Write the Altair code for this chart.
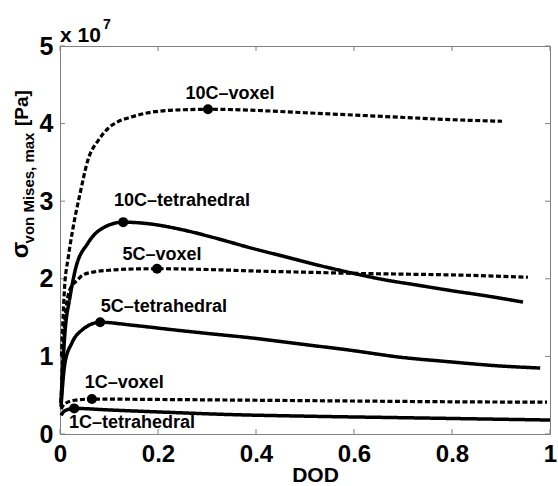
import altair as alt
import pandas as pd

# ---- data (stress in units of 1e7 Pa) ----
v10_x = [0.003, 0.01, 0.016, 0.027, 0.041, 0.057, 0.08, 0.1, 0.12, 0.143, 0.18, 0.22, 0.26, 0.302, 0.4, 0.5, 0.6, 0.7, 0.8, 0.902]
v10_y = [1.0, 1.95, 2.24, 2.67, 3.1, 3.53, 3.8, 3.95, 4.03, 4.08, 4.14, 4.17, 4.18, 4.185, 4.17, 4.14, 4.11, 4.08, 4.05, 4.03]

t10_x = [0.002, 0.01, 0.02, 0.031, 0.057, 0.092, 0.129, 0.18, 0.251, 0.32, 0.388, 0.456, 0.524, 0.592, 0.66, 0.728, 0.796, 0.87, 0.945]
t10_y = [0.4, 1.3, 1.75, 2.11, 2.46, 2.67, 2.73, 2.71, 2.63, 2.52, 2.40, 2.29, 2.18, 2.08, 1.99, 1.92, 1.85, 1.78, 1.70]

v5_x = [0.002, 0.008, 0.02, 0.035, 0.047, 0.07, 0.1, 0.14, 0.198, 0.3, 0.4, 0.5, 0.6, 0.7, 0.8, 0.955]
v5_y = [0.4, 1.3, 1.86, 1.98, 2.05, 2.09, 2.11, 2.125, 2.13, 2.12, 2.10, 2.085, 2.07, 2.06, 2.05, 2.02]

t5_x = [0.002, 0.01, 0.024, 0.045, 0.082, 0.15, 0.235, 0.31, 0.388, 0.49, 0.592, 0.694, 0.796, 0.89, 0.98]
t5_y = [0.35, 0.91, 1.17, 1.34, 1.44, 1.40, 1.34, 1.29, 1.24, 1.16, 1.08, 0.99, 0.93, 0.88, 0.85]

v1_x = [0.002, 0.01, 0.03, 0.065, 0.2, 0.4, 0.6, 0.8, 0.994]
v1_y = [0.32, 0.39, 0.435, 0.45, 0.445, 0.435, 0.425, 0.415, 0.41]

t1_x = [0.002, 0.01, 0.029, 0.1, 0.218, 0.35, 0.5, 0.7, 0.85, 1.0]
t1_y = [0.24, 0.3, 0.33, 0.31, 0.28, 0.25, 0.23, 0.21, 0.195, 0.18]

series_names = ["10C–voxel", "10C–tetrahedral", "5C–voxel", "5C–tetrahedral", "1C–voxel", "1C–tetrahedral"]
series_kind = ["dashed", "solid", "dashed", "solid", "dashed", "solid"]
series_x = [v10_x, t10_x, v5_x, t5_x, v1_x, t1_x]
series_y = [v10_y, t10_y, v5_y, t5_y, v1_y, t1_y]

peak_x = [0.302, 0.129, 0.198, 0.082, 0.065, 0.029]
peak_y = [4.185, 2.73, 2.13, 1.44, 0.45, 0.33]

label_x = [0.347, 0.249, 0.208, 0.212, 0.131, 0.147]
label_y = [4.38, 3.0, 2.31, 1.64, 0.66, 0.14]

x_ticks = [0, 0.2, 0.4, 0.6, 0.8, 1]
y_ticks = [0, 1, 2, 3, 4, 5]

rows = []
for name, kind, xs, ys in zip(series_names, series_kind, series_x, series_y):
    for i, (a, b) in enumerate(zip(xs, ys)):
        rows.append({"series": name, "kind": kind, "x": a, "y": b, "o": i})
df = pd.DataFrame(rows)
peaks = pd.DataFrame({"series": series_names, "x": peak_x, "y": peak_y})
labels = pd.DataFrame({"label": series_names, "x": label_x, "y": label_y})
xt = pd.DataFrame({"x": x_ticks})
yt = pd.DataFrame({"y": y_ticks})

W, H = 490, 388
FONT = "Liberation Sans"
GREY = "#808080"

X = alt.X("x:Q", scale=alt.Scale(domain=[0, 1], nice=False, zero=False),
          axis=alt.Axis(values=x_ticks, labelExpr="'' + datum.value", tickSize=0, domain=False,
                        grid=False, labelFont=FONT, labelFontSize=24, labelFontWeight="bold",
                        labelColor="black", labelPadding=8, labelFlush=False, labelOverlap=False,
                        title="DOD", titleFont=FONT, titleFontSize=21, titleFontWeight="bold",
                        titleColor="black", titleX=255, titleY=47, titleAlign="center",
                        titleBaseline="alphabetic"))
Y = alt.Y("y:Q", scale=alt.Scale(domain=[0, 5], nice=False, zero=False),
          axis=alt.Axis(values=y_ticks, labelExpr="'' + datum.value", tickSize=0, domain=False,
                        grid=False, labelFont=FONT, labelFontSize=25, labelFontWeight="bold",
                        labelColor="black", labelPadding=7, labelFlush=False, labelOverlap=False,
                        title=None))

lines = alt.Chart(df).mark_line(interpolate="monotone", color="black").encode(
    x=X, y=Y,
    detail="series:N",
    order="o:Q",
    strokeDash=alt.StrokeDash("kind:N", scale=alt.Scale(domain=["solid", "dashed"], range=[[1, 0], [5, 2.5]]), legend=None),
    strokeWidth=alt.StrokeWidth("kind:N", scale=alt.Scale(domain=["solid", "dashed"], range=[3.5, 3.2]), legend=None),
)

dots = alt.Chart(peaks).mark_circle(size=100, color="black", opacity=1).encode(x=X, y=Y)

texts = alt.Chart(labels).mark_text(font=FONT, fontSize=18, fontWeight="bold", color="black",
                                    align="center", baseline="middle").encode(x=X, y=Y, text="label:N")

tick_b = alt.Chart(xt).mark_rule(color=GREY, strokeWidth=1).encode(x=X, y=alt.value(H), y2=alt.value(H - 5))
tick_t = alt.Chart(xt).mark_rule(color=GREY, strokeWidth=1).encode(x=X, y=alt.value(0), y2=alt.value(5))
tick_l = alt.Chart(yt).mark_rule(color=GREY, strokeWidth=1).encode(y=Y, x=alt.value(0), x2=alt.value(5))
tick_r = alt.Chart(yt).mark_rule(color=GREY, strokeWidth=1).encode(y=Y, x=alt.value(W), x2=alt.value(W - 5))

def note(txt, px, py, size, angle=0, align="center", baseline="middle"):
    kw = dict(font=FONT, fontSize=size, fontWeight="bold", color="black", align=align, baseline=baseline)
    if angle:
        kw["angle"] = angle
    return alt.Chart(pd.DataFrame({"t": [txt]})).mark_text(**kw).encode(
        text="t:N", x=alt.value(px), y=alt.value(py))

sigma = note("σ", -39, 204, 24, angle=270)
sub = note("von Mises, max", -31, 142, 15, angle=270)
unit = note("[Pa]", -38, 62, 19, angle=270)
mult = note("x 10", 0, -4, 21, align="left", baseline="alphabetic")
expo = note("7", 43, -17, 14, align="left", baseline="alphabetic")

chart = alt.layer(tick_b, tick_t, tick_l, tick_r, lines, dots, texts, sigma, sub, unit, mult, expo).properties(
    width=W, height=H,
    autosize=alt.AutoSizeParams(type="none"),
    padding={"left": 60, "top": 46, "right": 8, "bottom": 52},
    background="white",
).configure_view(stroke=GREY, strokeWidth=1)

chart.save("out.html", embed_options={"renderer": "svg", "actions": False})
